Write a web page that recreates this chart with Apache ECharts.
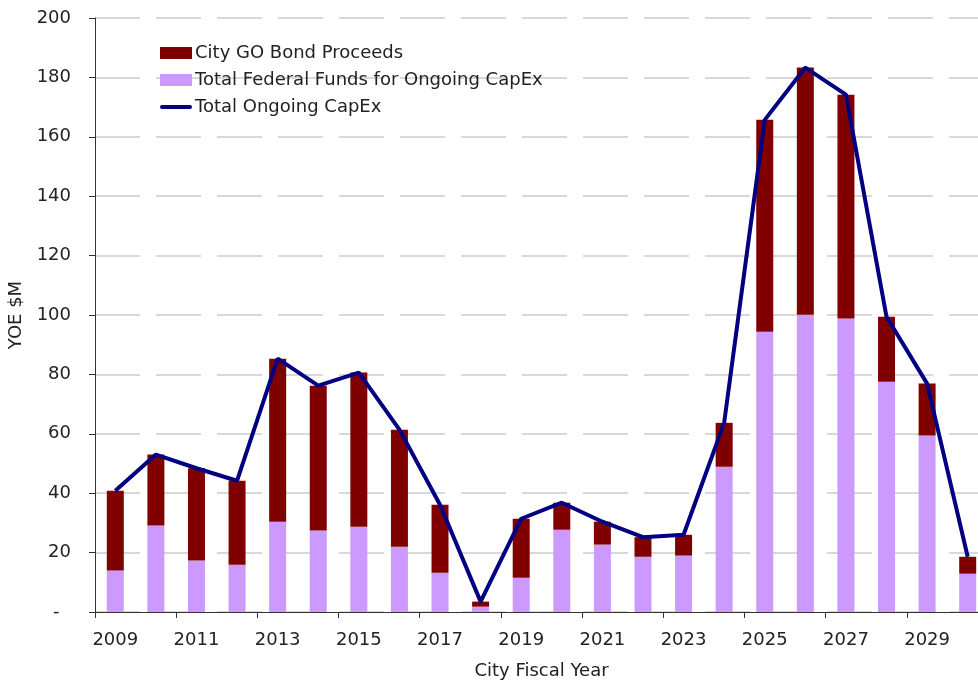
<!DOCTYPE html>
<html>
<head>
<meta charset="utf-8">
<script src="https://cdn.jsdelivr.net/npm/echarts@6/dist/echarts.min.js"></script>
<style>
  html, body { margin: 0; padding: 0; background: #fff; }
  #chart { width: 978px; height: 681px; }
</style>
</head>
<body>
<div id="chart"></div>
<script>
// Fiscal years on the category axis
const years = ['2009','2010','2011','2012','2013','2014','2015','2016','2017','2018','2019',
               '2020','2021','2022','2023','2024','2025','2026','2027','2028','2029','2030'];

// Federal funds (bottom of each stack), $M
const federalFunds = [14.0, 29.1, 17.3, 15.9, 30.4, 27.4, 28.7, 22.0, 13.2, 1.8, 11.5,
                      27.7, 22.7, 18.6, 19.0, 48.9, 94.4, 100.1, 98.8, 77.5, 59.4, 12.9];

// City GO bond proceeds (top of each stack), $M
const goBondProceeds = [26.8, 23.9, 31.1, 28.3, 54.9, 48.8, 51.9, 39.4, 22.9, 1.7, 19.9,
                        9.1, 7.7, 6.6, 7.0, 14.8, 71.3, 83.2, 75.4, 21.9, 17.5, 5.7];

// Total ongoing CapEx, $M
const totalCapEx = [40.8, 53.0, 48.4, 44.2, 85.3, 76.2, 80.6, 61.4, 36.1, 3.5, 31.4,
                    36.8, 30.4, 25.2, 26.0, 63.7, 165.7, 183.3, 174.2, 99.4, 76.9, 18.6];

const FONT = 'DejaVu Sans';
const TEXT = '#222222';
const AXIS = '#333333';

const chart = echarts.init(document.getElementById('chart'), null, { renderer: 'canvas' });

chart.setOption({
  animation: false,
  backgroundColor: '#ffffff',
  textStyle: { fontFamily: FONT, color: TEXT },
  // the plot runs slightly past the right edge, so the last bar is clipped
  grid: { left: 95, right: -10, top: 18, bottom: 69, outerBoundsMode: 'none', containLabel: false },
  legend: {
    orient: 'vertical',
    left: 155,
    top: 39,
    itemWidth: 32,
    itemHeight: 12,
    itemGap: 9,
    data: [
      { name: 'City GO Bond Proceeds', icon: 'rect' },
      { name: 'Total Federal Funds for Ongoing CapEx', icon: 'rect' },
      { name: 'Total Ongoing CapEx', icon: 'path://M2,0 H30 A2,2 0 0 1 30,4 H2 A2,2 0 0 1 2,0 Z' }
    ],
    textStyle: { fontFamily: FONT, fontSize: 18, color: TEXT, lineHeight: 18, padding: [0, 0, 0, -2] }
  },
  xAxis: {
    type: 'category',
    data: years,
    name: 'City Fiscal Year',
    nameLocation: 'middle',
    nameGap: 50,
    nameTextStyle: { fontFamily: FONT, fontSize: 18, color: TEXT },
    axisLine: { lineStyle: { color: AXIS, width: 1 } },
    axisTick: { show: true, interval: 1, length: 6, lineStyle: { color: AXIS } },
    axisLabel: { interval: 1, fontFamily: FONT, fontSize: 18, color: TEXT, margin: 19 },
    splitLine: { show: false }
  },
  yAxis: {
    type: 'value',
    min: 0,
    max: 200,
    interval: 20,
    name: 'YOE $M',
    nameLocation: 'middle',
    nameGap: 66,
    nameRotate: 90,
    nameTextStyle: { fontFamily: FONT, fontSize: 18, color: TEXT },
    axisLine: { show: true, lineStyle: { color: AXIS, width: 1 } },
    axisTick: { show: true, length: 6, lineStyle: { color: AXIS } },
    axisLabel: {
      fontFamily: FONT, fontSize: 18, color: TEXT, margin: 24,
      formatter: function (v) { return v === 0 ? '-  ' : String(v); }
    },
    splitLine: { show: true, lineStyle: { color: '#cccccc', width: 1.5, type: [45, 16], dashOffset: 0 } }
  },
  series: [
    {
      name: 'Total Federal Funds for Ongoing CapEx',
      type: 'bar',
      stack: 'capex',
      data: federalFunds,
      barWidth: 17,
      itemStyle: { color: '#cc99ff' }
    },
    {
      name: 'City GO Bond Proceeds',
      type: 'bar',
      stack: 'capex',
      data: goBondProceeds,
      barWidth: 17,
      itemStyle: { color: '#800000' }
    },
    {
      name: 'Total Ongoing CapEx',
      type: 'line',
      data: totalCapEx,
      symbol: 'none',
      lineStyle: { color: '#000080', width: 4 },
      itemStyle: { color: '#000080' },
      z: 5
    }
  ]
});
</script>
</body>
</html>
